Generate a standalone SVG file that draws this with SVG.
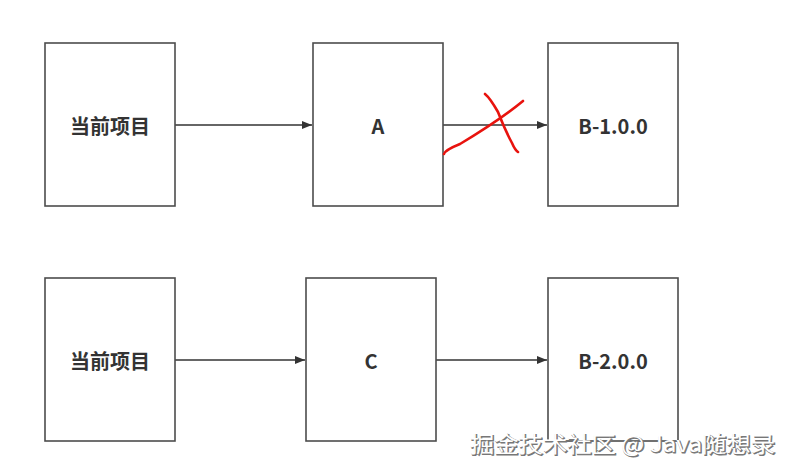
<svg xmlns="http://www.w3.org/2000/svg" width="792" height="475" viewBox="0 0 792 475">
<defs>
<style>
.box{fill:#fff;stroke:#4d4d4d;stroke-width:1.6}
.lbl{font-family:"Noto Sans CJK SC","Liberation Sans",sans-serif;font-weight:bold;font-size:20px;fill:#333;text-anchor:middle;dominant-baseline:central}
.edge{stroke:#333;stroke-width:1.3;fill:none;marker-end:url(#arr)}
.x{stroke:#e8130e;stroke-width:2.6;fill:none;stroke-linecap:round}
.wm{font-family:"Noto Sans CJK SC","Liberation Sans",sans-serif;font-size:22px}
</style>
<marker id="arr" viewBox="0 0 10 10" refX="10" refY="5" markerWidth="10" markerHeight="10" markerUnits="userSpaceOnUse" orient="auto">
<path d="M0,1 L10,5 L0,9 z" fill="#333"/>
</marker>
</defs>
<rect width="792" height="475" fill="#fff"/>
<g id="edges">
<line class="edge" x1="175" y1="125" x2="312" y2="125"/>
<line class="edge" x1="443" y1="125" x2="547" y2="125"/>
<line class="edge" x1="175" y1="360" x2="305" y2="360"/>
<line class="edge" x1="436" y1="360" x2="547" y2="360"/>
</g>
<g id="cur1"><rect class="box" x="45" y="43" width="130" height="163"/><text class="lbl" x="110" y="125">当前项目</text></g>
<g id="A"><rect class="box" x="313" y="43" width="130" height="163"/><text class="lbl" x="378" y="125">A</text></g>
<g id="B1"><rect class="box" x="548" y="43" width="130" height="163"/><text class="lbl" x="613" y="125">B-1.0.0</text></g>
<g id="cur2"><rect class="box" x="45" y="278" width="130" height="163"/><text class="lbl" x="110" y="360">当前项目</text></g>
<g id="C"><rect class="box" x="306" y="278" width="130" height="163"/><text class="lbl" x="371" y="360">C</text></g>
<g id="B2"><rect class="box" x="548" y="278" width="130" height="163"/><text class="lbl" x="613" y="360">B-2.0.0</text></g>
<g id="cross">
<path class="x" d="M444,154 Q445,150 460,144 Q500,120 523,101"/>
<path class="x" d="M485,94 Q490,98 498,112 Q505,130 512,143 Q515,150 518,152"/>
</g>
<g id="watermark">
<text class="wm" x="471" y="453" textLength="305" lengthAdjust="spacingAndGlyphs" fill="#777" stroke="#777" stroke-width="1">掘金技术社区 @ Java随想录</text>
<text class="wm" x="470" y="452" textLength="305" lengthAdjust="spacingAndGlyphs" fill="#fff">掘金技术社区 @ Java随想录</text>
</g>
</svg>
